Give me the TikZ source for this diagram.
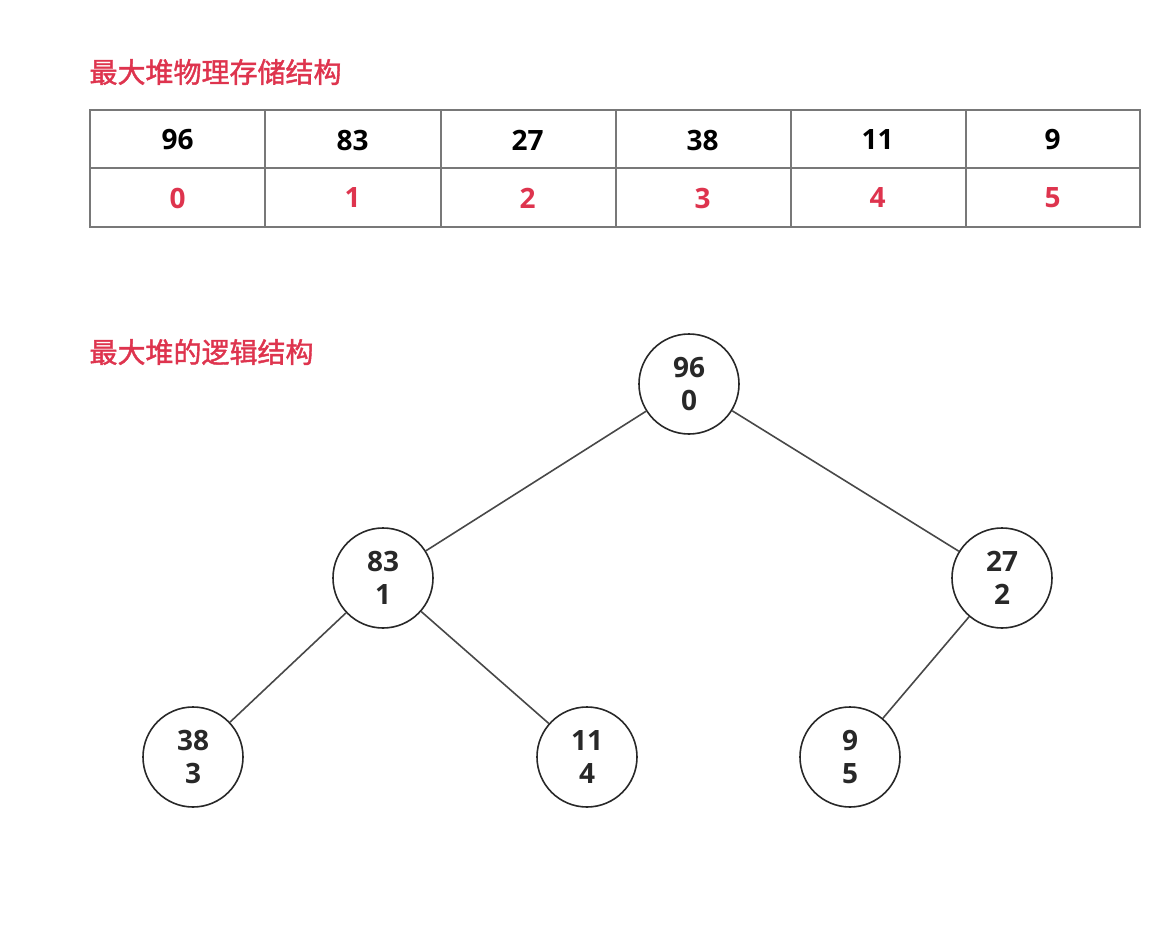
\documentclass[tikz,border=0pt]{standalone}
\usepackage{fontspec}
\setmainfont{Open Sans}
\newfontfamily\cjk{Noto Sans CJK SC}[AutoFakeBold=1.5]
\definecolor{hred}{RGB}{222,52,78}
\definecolor{tline}{RGB}{120,120,120}
\definecolor{ink}{RGB}{40,40,40}
\begin{document}
\begin{tikzpicture}[x=1pt,y=-1pt,
  title/.style={anchor=west,text=hred,font=\cjk\bfseries\fontsize{28}{32}\selectfont},
  val/.style={font=\bfseries\fontsize{28}{32}\selectfont,text=black},
  idx/.style={font=\bfseries\fontsize{28}{32}\selectfont,text=hred},
  hn/.style={circle,draw=ink,line width=1.6pt,minimum size=100pt,inner sep=0pt,align=center,
    font=\bfseries\fontsize{28}{33}\selectfont,text=ink},
  edge/.style={draw=ink!85,line width=1.6pt}]
\useasboundingbox (0,0) rectangle (1157,947);
\node[title] (t1) at (86,72) {最大堆物理存储结构};
\node[title] (t2) at (86,352) {最大堆的逻辑结构};
\draw[tline,line width=2pt] (90,110) rectangle (1140,227);
\draw[tline,line width=1.6pt] (90,168) -- (1140,168);
\foreach \x in {265,441,616,791,966} \draw[tline,line width=1.6pt] (\x,110) -- (\x,227);
\foreach \v/\i [count=\k from 0] in {96/0,83/1,27/2,38/3,11/4,9/5}{
  \pgfmathsetmacro\cx{90+175*\k+87.5}
  \node[val] (v\k) at (\cx,140) {\v};
  \node[idx] (i\k) at (\cx,198) {\i};
}
\node[hn] (n0) at (689,384) {96\\0};
\node[hn] (n1) at (383,578) {83\\1};
\node[hn] (n2) at (1002,578) {27\\2};
\node[hn] (n3) at (193,757) {38\\3};
\node[hn] (n4) at (587,757) {11\\4};
\node[hn] (n5) at (850,757) {9\\5};
\draw[edge] (n0) -- (n1);
\draw[edge] (n0) -- (n2);
\draw[edge] (n1) -- (n3);
\draw[edge] (n1) -- (n4);
\draw[edge] (n2) -- (n5);
\end{tikzpicture}
\end{document}
